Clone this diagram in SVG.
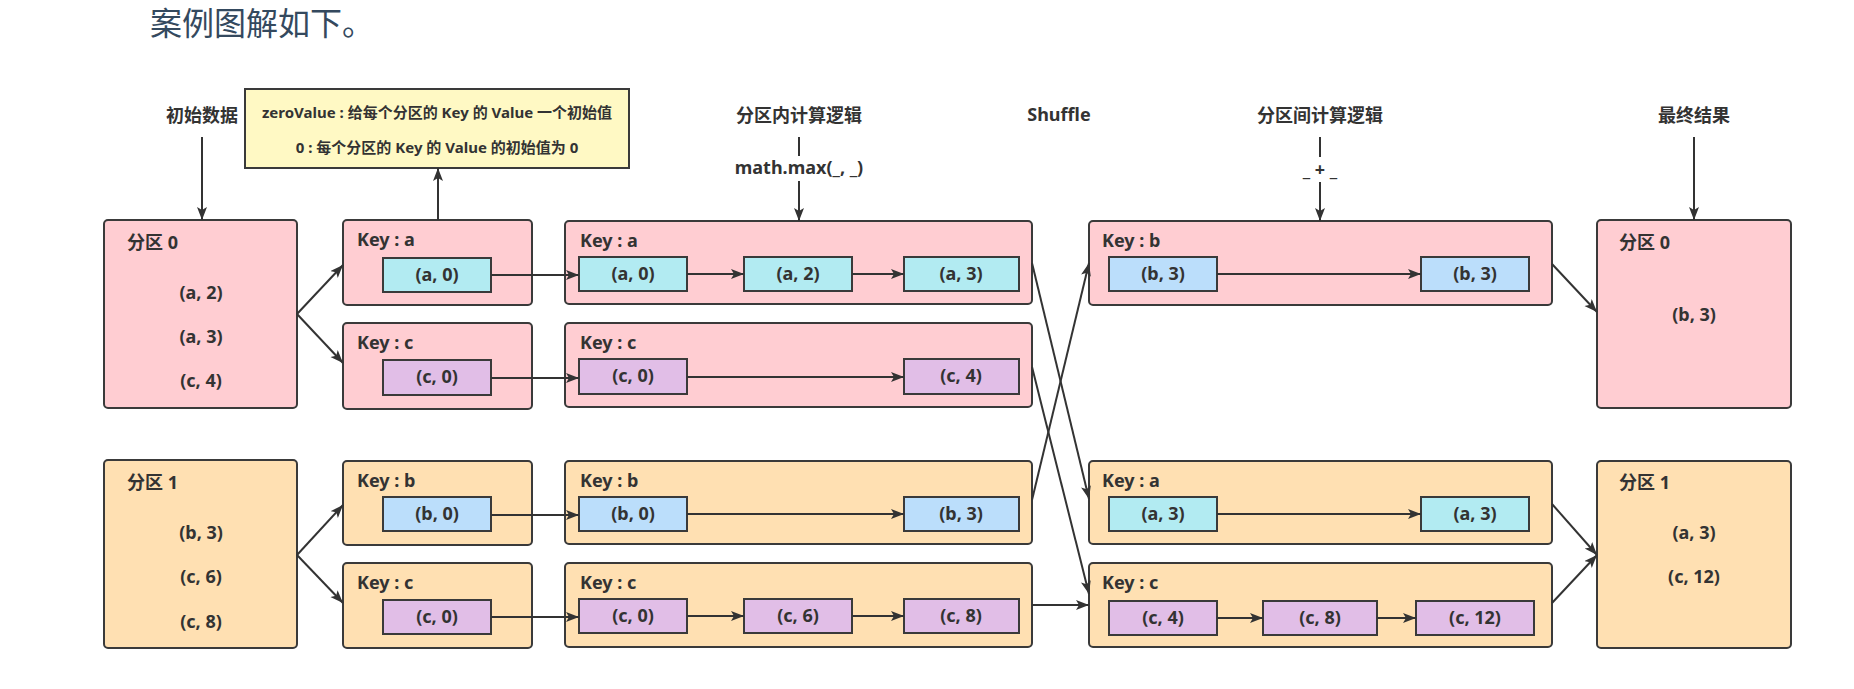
<svg xmlns="http://www.w3.org/2000/svg" width="1854" height="689" viewBox="0 0 1854 689">
<defs>
<marker id="ah" markerUnits="userSpaceOnUse" markerWidth="14" markerHeight="12" refX="13" refY="5" orient="auto">
<path d="M0,0 L13,5 L0,10 L3,5 z" fill="#333"/>
</marker>
<style>
.pink{fill:#FFCDD2;stroke:#3a3a3a;stroke-width:2}
.peach{fill:#FFE0B2;stroke:#3a3a3a;stroke-width:2}
.cyan{fill:#B2EBF2;stroke:#3a3a3a;stroke-width:2}
.blue{fill:#BBDEFB;stroke:#3a3a3a;stroke-width:2}
.purple{fill:#E1BEE7;stroke:#3a3a3a;stroke-width:2}
.note{fill:#FFF9C4;stroke:#3a3a3a;stroke-width:2}
text{font-family:"Noto Sans","Noto Sans CJK SC",sans-serif;font-weight:bold;font-size:18px;fill:#333}
.c{text-anchor:middle}
.small{font-size:15px}
.title{font-family:"Noto Sans CJK SC","Noto Sans",sans-serif;font-weight:normal;font-size:32px;fill:#34495e}
.ln{stroke:#333;stroke-width:2;fill:none}
.ar{stroke:#333;stroke-width:2;fill:none;marker-end:url(#ah)}
</style>
</defs>
<rect width="1854" height="689" fill="#fff"/>
<text class="title" x="150" y="35">案例图解如下。</text>

<g id="headers">
<text class="c" x="202" y="122">初始数据</text>
<text class="c" x="799" y="122">分区内计算逻辑</text>
<text class="c" x="1059" y="121">Shuffle</text>
<text class="c" x="1320" y="122">分区间计算逻辑</text>
<text class="c" x="1694" y="122">最终结果</text>
<text class="c" x="799" y="174">math.max(_, _)</text>
<text class="c" x="1320" y="176">_ + _</text>
</g>

<g id="zeroValue">
<rect class="note" x="245" y="89" width="384" height="79"/>
<text class="c small" x="437" y="118">zeroValue : 给每个分区的 Key 的 Value 一个初始值</text>
<text class="c small" x="437" y="153">0 : 每个分区的 Key 的 Value 的初始值为 0</text>
</g>

<g id="p0-in">
<rect class="pink" x="104" y="220" width="193" height="188" rx="4"/>
<text x="127" y="249">分区 0</text>
<text class="c" x="201" y="299">(a, 2)</text>
<text class="c" x="201" y="343">(a, 3)</text>
<text class="c" x="201" y="387">(c, 4)</text>
</g>
<g id="p1-in">
<rect class="peach" x="104" y="460" width="193" height="188" rx="4"/>
<text x="127" y="489">分区 1</text>
<text class="c" x="201" y="539">(b, 3)</text>
<text class="c" x="201" y="583">(c, 6)</text>
<text class="c" x="201" y="628">(c, 8)</text>
</g>

<g id="c2-a">
<rect class="pink" x="343" y="220" width="189" height="85" rx="4"/>
<text x="357" y="246">Key : a</text>
<rect class="cyan" x="383" y="258" width="108" height="34"/>
<text class="c" x="437" y="281">(a, 0)</text>
</g>
<g id="c2-c0">
<rect class="pink" x="343" y="323" width="189" height="86" rx="4"/>
<text x="357" y="349">Key : c</text>
<rect class="purple" x="383" y="360" width="108" height="35"/>
<text class="c" x="437" y="383">(c, 0)</text>
</g>
<g id="c2-b">
<rect class="peach" x="343" y="461" width="189" height="84" rx="4"/>
<text x="357" y="487">Key : b</text>
<rect class="blue" x="383" y="497" width="108" height="34"/>
<text class="c" x="437" y="520">(b, 0)</text>
</g>
<g id="c2-c1">
<rect class="peach" x="343" y="563" width="189" height="85" rx="4"/>
<text x="357" y="589">Key : c</text>
<rect class="purple" x="383" y="600" width="108" height="34"/>
<text class="c" x="437" y="623">(c, 0)</text>
</g>

<g id="c3-a">
<rect class="pink" x="565" y="221" width="467" height="83" rx="4"/>
<text x="580" y="247">Key : a</text>
<rect class="cyan" x="579" y="257" width="108" height="34"/>
<text class="c" x="633" y="280">(a, 0)</text>
<rect class="cyan" x="744" y="257" width="108" height="34"/>
<text class="c" x="798" y="280">(a, 2)</text>
<rect class="cyan" x="904" y="257" width="115" height="34"/>
<text class="c" x="961" y="280">(a, 3)</text>
</g>
<g id="c3-c0">
<rect class="pink" x="565" y="323" width="467" height="84" rx="4"/>
<text x="580" y="349">Key : c</text>
<rect class="purple" x="579" y="359" width="108" height="35"/>
<text class="c" x="633" y="382">(c, 0)</text>
<rect class="purple" x="904" y="359" width="115" height="35"/>
<text class="c" x="961" y="382">(c, 4)</text>
</g>
<g id="c3-b">
<rect class="peach" x="565" y="461" width="467" height="83" rx="4"/>
<text x="580" y="487">Key : b</text>
<rect class="blue" x="579" y="497" width="108" height="34"/>
<text class="c" x="633" y="520">(b, 0)</text>
<rect class="blue" x="904" y="497" width="115" height="34"/>
<text class="c" x="961" y="520">(b, 3)</text>
</g>
<g id="c3-c1">
<rect class="peach" x="565" y="563" width="467" height="84" rx="4"/>
<text x="580" y="589">Key : c</text>
<rect class="purple" x="579" y="599" width="108" height="34"/>
<text class="c" x="633" y="622">(c, 0)</text>
<rect class="purple" x="744" y="599" width="108" height="34"/>
<text class="c" x="798" y="622">(c, 6)</text>
<rect class="purple" x="904" y="599" width="115" height="34"/>
<text class="c" x="961" y="622">(c, 8)</text>
</g>

<g id="c4-b">
<rect class="pink" x="1089" y="221" width="463" height="84" rx="4"/>
<text x="1102" y="247">Key : b</text>
<rect class="blue" x="1109" y="257" width="108" height="34"/>
<text class="c" x="1163" y="280">(b, 3)</text>
<rect class="blue" x="1421" y="257" width="108" height="34"/>
<text class="c" x="1475" y="280">(b, 3)</text>
</g>
<g id="c4-a">
<rect class="peach" x="1089" y="461" width="463" height="83" rx="4"/>
<text x="1102" y="487">Key : a</text>
<rect class="cyan" x="1109" y="497" width="108" height="34"/>
<text class="c" x="1163" y="520">(a, 3)</text>
<rect class="cyan" x="1421" y="497" width="108" height="34"/>
<text class="c" x="1475" y="520">(a, 3)</text>
</g>
<g id="c4-c">
<rect class="peach" x="1089" y="563" width="463" height="84" rx="4"/>
<text x="1102" y="589">Key : c</text>
<rect class="purple" x="1109" y="601" width="108" height="34"/>
<text class="c" x="1163" y="624">(c, 4)</text>
<rect class="purple" x="1263" y="601" width="114" height="34"/>
<text class="c" x="1320" y="624">(c, 8)</text>
<rect class="purple" x="1416" y="601" width="118" height="34"/>
<text class="c" x="1475" y="624">(c, 12)</text>
</g>

<g id="p0-out">
<rect class="pink" x="1597" y="220" width="194" height="188" rx="4"/>
<text x="1619" y="249">分区 0</text>
<text class="c" x="1694" y="321">(b, 3)</text>
</g>
<g id="p1-out">
<rect class="peach" x="1597" y="461" width="194" height="187" rx="4"/>
<text x="1619" y="489">分区 1</text>
<text class="c" x="1694" y="539">(a, 3)</text>
<text class="c" x="1694" y="583">(c, 12)</text>
</g>

<g id="connectors">
<path class="ar" d="M202,137 L202,220"/>
<path class="ar" d="M438,220 L438,168"/>
<path class="ln" d="M799,137 L799,156"/>
<path class="ar" d="M799,181 L799,221"/>
<path class="ln" d="M1320,137 L1320,157"/>
<path class="ar" d="M1320,182 L1320,221"/>
<path class="ar" d="M1694,137 L1694,220"/>
<path class="ar" d="M297,314 L343,265"/>
<path class="ar" d="M297,314 L343,363"/>
<path class="ar" d="M297,555 L343,505"/>
<path class="ar" d="M297,555 L343,603"/>
<path class="ar" d="M491,275 L579,275"/>
<path class="ar" d="M491,378 L579,378"/>
<path class="ar" d="M491,515 L579,515"/>
<path class="ar" d="M491,617 L579,617"/>
<path class="ar" d="M687,274 L744,274"/>
<path class="ar" d="M852,274 L904,274"/>
<path class="ar" d="M687,377 L904,377"/>
<path class="ar" d="M687,514 L904,514"/>
<path class="ar" d="M687,616 L744,616"/>
<path class="ar" d="M852,616 L904,616"/>
<path class="ar" d="M1032,263 L1089,499"/>
<path class="ar" d="M1032,367 L1089,594"/>
<path class="ar" d="M1032,500 L1089,263"/>
<path class="ar" d="M1032,605 L1089,605"/>
<path class="ar" d="M1217,274 L1421,274"/>
<path class="ar" d="M1217,514 L1421,514"/>
<path class="ar" d="M1217,618 L1263,618"/>
<path class="ar" d="M1377,618 L1416,618"/>
<path class="ar" d="M1552,264 L1597,312"/>
<path class="ar" d="M1552,504 L1597,555"/>
<path class="ar" d="M1552,603 L1597,555"/>
</g>
</svg>
